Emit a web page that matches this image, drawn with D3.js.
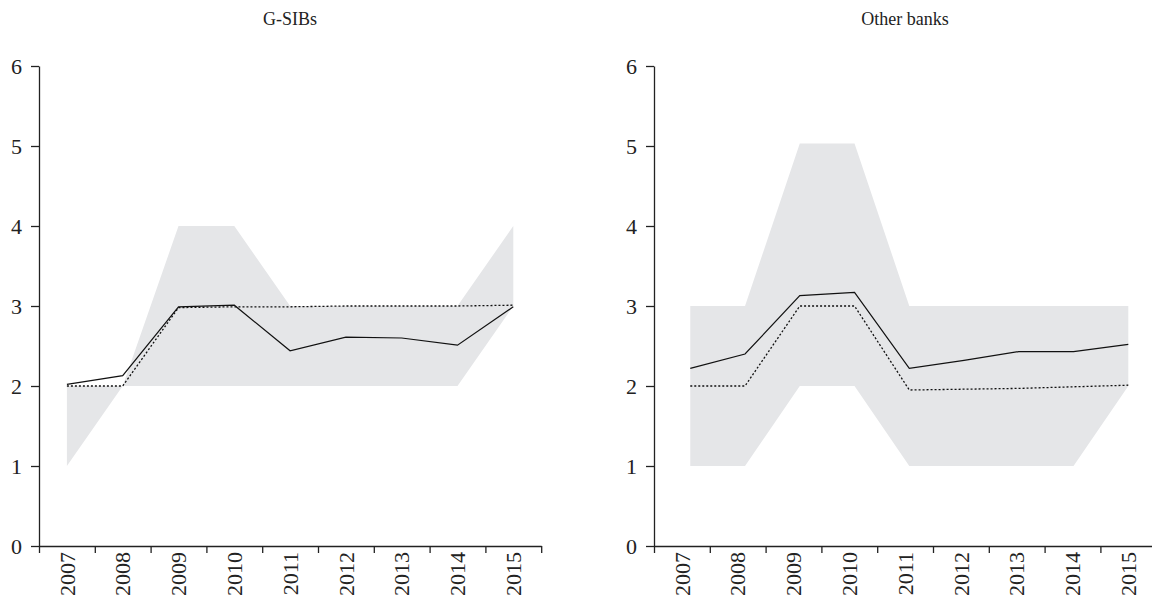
<!DOCTYPE html>
<html>
<head>
    <meta charset="utf-8">
    <script src="https://d3js.org/d3.v7.min.js"></script>
    <style>
        body { margin: 0; background: #ffffff; }
        text { font-family: "Liberation Serif", "DejaVu Serif", serif; fill: #222; }
    </style>
</head>
<body>
    <svg id="canvas" width="1152" height="604"></svg>
    <script>
        const svg = d3.select('#canvas');

        //years along the x axis
        const years = ['2007', '2008', '2009', '2010', '2011', '2012', '2013', '2014', '2015'];
        const yTicks = [0, 1, 2, 3, 4, 5, 6];

        //G-SIBs
        const gsibMean = [2.02, 2.13, 2.99, 3.01, 2.44, 2.61, 2.60, 2.51, 2.99];
        const gsibMedian = [2.0, 2.0, 2.98, 2.99, 2.99, 3.0, 3.0, 3.0, 3.01];
        const gsibLow = [1, 2, 2, 2, 2, 2, 2, 2, 3];
        const gsibHigh = [2, 2, 4, 4, 3, 3, 3, 3, 4];

        //Other banks
        const otherMean = [2.22, 2.40, 3.13, 3.17, 2.22, 2.32, 2.43, 2.43, 2.52];
        const otherMedian = [2.0, 2.0, 3.0, 3.0, 1.95, 1.96, 1.97, 1.99, 2.01];
        const otherLow = [1, 1, 2, 2, 1, 1, 1, 1, 2];
        const otherHigh = [3, 3, 5.03, 5.03, 3, 3, 3, 3, 3];

        const TOP = 66;
        const BOTTOM = 546;
        const BAND = 55.8;

        const panels = [
            { title: 'G-SIBs', left: 39, inset: [0.5, 0.5], mean: gsibMean, median: gsibMedian, low: gsibLow, high: gsibHigh },
            { title: 'Other banks', left: 654, inset: [0.65, 0.5], mean: otherMean, median: otherMedian, low: otherLow, high: otherHigh }
        ];

        const y = d3.scaleLinear().domain([0, 6]).range([BOTTOM, TOP]);

        panels.forEach(p => {
            const right = p.left + BAND * years.length;
            const g = svg.append('g');

            //band edges for ticks, band centres for the labels
            const xEdge = d3.scaleLinear().domain([0, years.length]).range([p.left, right]);
            const xBand = d3.scaleBand().domain(years).range([p.left, right]);
            //points sit at the band centres (slightly inset on the right panel)
            const xData = d3.scalePoint().domain(years)
                .range([xEdge(p.inset[0]), xEdge(years.length - p.inset[1])]);

            const rows = years.map((yr, i) => ({ yr, mean: p.mean[i], median: p.median[i], low: p.low[i], high: p.high[i] }));

            //shaded range
            g.append('path')
                .datum(rows)
                .attr('fill', '#e5e6e8')
                .attr('d', d3.area().x(d => xData(d.yr)).y0(d => y(d.low)).y1(d => y(d.high)));

            //median (dotted)
            g.append('path')
                .datum(rows)
                .attr('fill', 'none')
                .attr('stroke', '#111')
                .attr('stroke-width', 1.3)
                .attr('stroke-dasharray', '2,2')
                .attr('d', d3.line().x(d => xData(d.yr)).y(d => y(d.median)));

            //mean (solid)
            g.append('path')
                .datum(rows)
                .attr('fill', 'none')
                .attr('stroke', '#111')
                .attr('stroke-width', 1.2)
                .attr('d', d3.line().x(d => xData(d.yr)).y(d => y(d.mean)));

            //y axis
            const yAxis = g.append('g')
                .attr('transform', `translate(${p.left},0)`)
                .call(d3.axisLeft(y).tickValues(yTicks).tickFormat(d3.format('d')).tickSize(8).tickSizeOuter(0).tickPadding(9));
            yAxis.selectAll('path, line').attr('stroke', '#222').attr('stroke-width', 1.3);
            yAxis.selectAll('text').style('font-size', '22px').style('font-family', '"Liberation Serif", serif').attr('fill', '#222');

            //x axis
            const xAxis = g.append('g')
                .attr('transform', `translate(0,${BOTTOM})`)
                .call(d3.axisBottom(xEdge).tickValues(d3.range(years.length + 1)).tickFormat('').tickSize(7).tickSizeOuter(0));
            xAxis.selectAll('path, line').attr('stroke', '#222').attr('stroke-width', 1.3);

            g.selectAll('.year')
                .data(years)
                .enter()
                .append('text')
                .attr('class', 'year')
                .attr('transform', d => `translate(${xBand(d) + xBand.bandwidth() / 2},${BOTTOM + 6}) rotate(-90)`)
                .attr('text-anchor', 'end')
                .attr('dy', '0.35em')
                .style('font-size', '22px')
                .text(d => d);

            //panel title
            g.append('text')
                .attr('x', (p.left + right) / 2)
                .attr('y', 25)
                .attr('text-anchor', 'middle')
                .style('font-size', '18px')
                .text(p.title);
        });
    </script>
</body>
</html>
